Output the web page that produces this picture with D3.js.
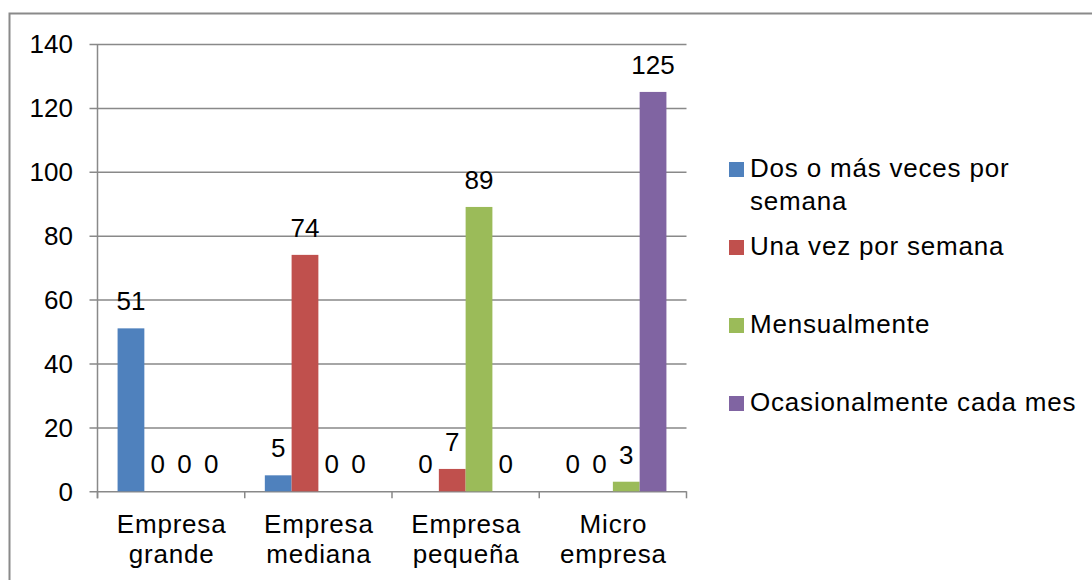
<!DOCTYPE html>
<html>
<head>
<meta charset="utf-8">
<script src="https://cdn.jsdelivr.net/npm/d3@7"></script>
<style>
  html, body { margin: 0; padding: 0; background: #fff; }
  svg { display: block; }
  text { font-family: "Liberation Sans", Arial, Helvetica, sans-serif; fill: #000; }
</style>
</head>
<body>
<svg id="chart" width="1092" height="580"></svg>
<script>
// Company size groups along the x axis
const categories = ["Empresa grande", "Empresa mediana", "Empresa pequeña", "Micro empresa"];

// Frequency series shown in the legend
const seriesNames = [
  "Dos o más veces por semana",
  "Una vez por semana",
  "Mensualmente",
  "Ocasionalmente cada mes"
];

// Counts per series, in category order
const dosOMasVeces   = [51, 5, 0, 0];
const unaVezSemana   = [0, 74, 7, 0];
const mensualmente   = [0, 0, 89, 3];
const ocasionalmente = [0, 0, 0, 125];

const yTicks = [0, 20, 40, 60, 80, 100, 120, 140];

const seriesValues = [dosOMasVeces, unaVezSemana, mensualmente, ocasionalmente];
const colors = ["#4F81BD", "#C0504D", "#9BBB59", "#8064A2"];

const svg = d3.select("#chart");
const FONT = 26;
const SPACING = "0.8px";
const gridColor = "#898989";

// chart frame
svg.append("rect")
  .attr("x", 9.5).attr("y", 13.5)
  .attr("width", 1200).attr("height", 700)
  .attr("fill", "#fff")
  .attr("stroke", "#8a8a8a")
  .attr("stroke-width", 2);

const plot = { left: 97.5, right: 686.5, top: 44, bottom: 491.3 };

const x = d3.scaleBand()
  .domain(categories)
  .range([plot.left, plot.right])
  .paddingInner(0).paddingOuter(0);

const xs = d3.scaleBand()
  .domain(d3.range(seriesNames.length))
  .range([0, x.bandwidth()])
  .paddingInner(0).paddingOuter(0.75);

const y = d3.scaleLinear()
  .domain([0, 140])
  .range([plot.bottom, plot.top]);

// horizontal gridlines with short outer ticks
const gAxisY = svg.append("g")
  .attr("transform", `translate(${plot.left},0)`)
  .call(d3.axisLeft(y)
    .tickValues(yTicks)
    .tickSize(-(plot.right - plot.left))
    .tickSizeOuter(0)
    .tickFormat(""));
gAxisY.select(".domain").remove();
gAxisY.selectAll(".tick line")
  .attr("x1", -8)
  .attr("stroke", gridColor)
  .attr("stroke-width", 1.5);

// y tick labels
svg.append("g").selectAll("text")
  .data(yTicks)
  .join("text")
  .attr("x", 73)
  .attr("y", d => y(d))
  .attr("dy", "0.36em")
  .attr("text-anchor", "end")
  .style("font-size", FONT + "px")
  .text(d => d);

// vertical axis line
svg.append("line")
  .attr("x1", plot.left).attr("x2", plot.left)
  .attr("y1", plot.top).attr("y2", plot.bottom + 7)
  .attr("stroke", gridColor).attr("stroke-width", 1.5);

// category boundary ticks below the baseline
const boundaries = categories.map(c => x(c)).concat([x(categories[categories.length - 1]) + x.bandwidth()]);
svg.append("g").selectAll("line")
  .data(boundaries)
  .join("line")
  .attr("x1", d => d).attr("x2", d => d)
  .attr("y1", plot.bottom).attr("y2", plot.bottom + 7)
  .attr("stroke", gridColor).attr("stroke-width", 1.5);

// bars
const barData = [];
seriesValues.forEach((vals, si) => {
  vals.forEach((v, ci) => barData.push({ si, ci, v }));
});

svg.append("g").selectAll("rect")
  .data(barData)
  .join("rect")
  .attr("x", d => x(categories[d.ci]) + xs(d.si))
  .attr("y", d => y(d.v))
  .attr("width", xs.bandwidth())
  .attr("height", d => y(0) - y(d.v))
  .attr("fill", d => colors[d.si]);

// value labels
svg.append("g").selectAll("text")
  .data(barData)
  .join("text")
  .attr("x", d => x(categories[d.ci]) + xs(d.si) + xs.bandwidth() / 2)
  .attr("y", d => y(d.v) - 18)
  .attr("text-anchor", "middle")
  .style("font-size", FONT + "px")
  .text(d => d.v);

// category labels, two lines each
const catG = svg.append("g").selectAll("text")
  .data(categories)
  .join("text")
  .attr("text-anchor", "middle")
  .style("font-size", FONT + "px")
  .style("letter-spacing", SPACING);
catG.each(function (c) {
  const i = c.indexOf(" ");
  const lines = [c.slice(0, i), c.slice(i + 1)];
  const cx = x(c) + x.bandwidth() / 2 + 0.5;
  d3.select(this).selectAll("tspan")
    .data(lines)
    .join("tspan")
    .attr("x", cx)
    .attr("y", (d, k) => 533.3 + k * 30)
    .text(d => d);
});

// legend
const legendX = 729;
const legendTextX = 750;
const legendMaxW = 335;
const legendTops = [162, 240, 318, 396];
const lg = svg.append("g");
seriesNames.forEach((name, i) => {
  lg.append("rect")
    .attr("x", legendX).attr("y", legendTops[i])
    .attr("width", 15).attr("height", 15)
    .attr("fill", colors[i]);
  const t = lg.append("text")
    .style("font-size", FONT + "px")
    .style("letter-spacing", SPACING);
  // wrap words onto new lines when wider than the legend column
  const words = name.split(" ");
  let line = [];
  let lineNo = 0;
  let tspan = t.append("tspan").attr("x", legendTextX).attr("y", legendTops[i] + 15);
  words.forEach(w => {
    line.push(w);
    tspan.text(line.join(" "));
    if (tspan.node().getComputedTextLength() > legendMaxW && line.length > 1) {
      line.pop();
      tspan.text(line.join(" "));
      line = [w];
      lineNo++;
      tspan = t.append("tspan")
        .attr("x", legendTextX)
        .attr("y", legendTops[i] + 15 + lineNo * 32.5)
        .text(w);
    }
  });
});
</script>
</body>
</html>
